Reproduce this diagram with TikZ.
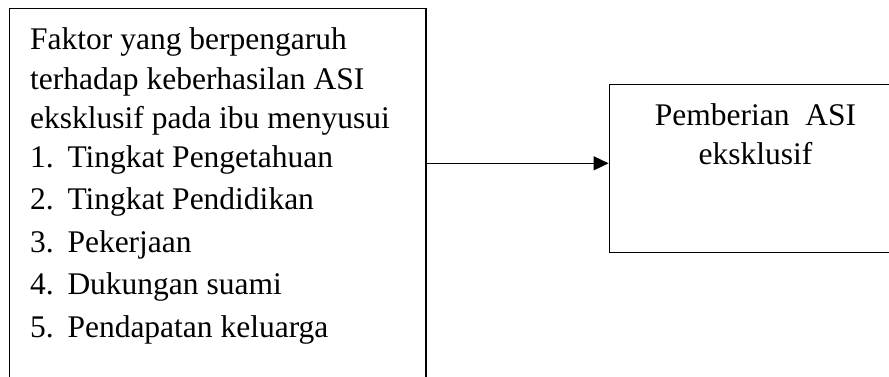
\documentclass[tikz,border=0pt]{standalone}
\usepackage{fontspec}
\setmainfont{Liberation Serif}
\usetikzlibrary{arrows.meta}
\begin{document}
\begin{tikzpicture}[x=1pt,y=-1pt,
  box/.style={draw,line width=1.6pt,inner sep=0pt,rectangle},
  txt/.style={anchor=base west,inner sep=0pt,font=\fontsize{31.5}{36}\selectfont},
  ctxt/.style={anchor=base,inner sep=0pt,font=\fontsize{31.5}{36}\selectfont},
  conn/.style={line width=1.6pt,-{Triangle[length=15pt,width=14pt]}}]
\useasboundingbox (0,0) rectangle (889,376);
\clip (0,0) rectangle (889,376);
\node[box,minimum width=416.2pt,minimum height=379.7pt] (L) at (217.6,198.2) {};
\node[box,minimum width=295.7pt,minimum height=168pt] (R) at (757.2,168.3) {};
\node[txt] (t1) at (30,49.3) {Faktor yang berpengaruh};
\node[txt] (t2) at (30,89.3) {terhadap keberhasilan ASI};
\node[txt] (t3) at (30,128.3) {eksklusif pada ibu menyusui};
\node[txt] (n1) at (30,167) {1.};
\node[txt] (i1) at (67.3,167) {Tingkat Pengetahuan};
\node[txt] (n2) at (30,209.5) {2.};
\node[txt] (i2) at (67.3,209.5) {Tingkat Pendidikan};
\node[txt] (n3) at (30,252) {3.};
\node[txt] (i3) at (67.3,252) {Pekerjaan};
\node[txt] (n4) at (30,294.5) {4.};
\node[txt] (i4) at (67.3,294.5) {Dukungan suami};
\node[txt] (n5) at (30,337) {5.};
\node[txt] (i5) at (67.3,337) {Pendapatan keluarga};
\node[ctxt] (r1) at (755.5,125) {Pemberian\ \ ASI};
\node[ctxt] (r2) at (755.5,164) {eksklusif};
\coordinate (ay) at (0,163.3);
\draw[conn] (L.east |- ay) -- (R.west |- ay);
\end{tikzpicture}
\end{document}
